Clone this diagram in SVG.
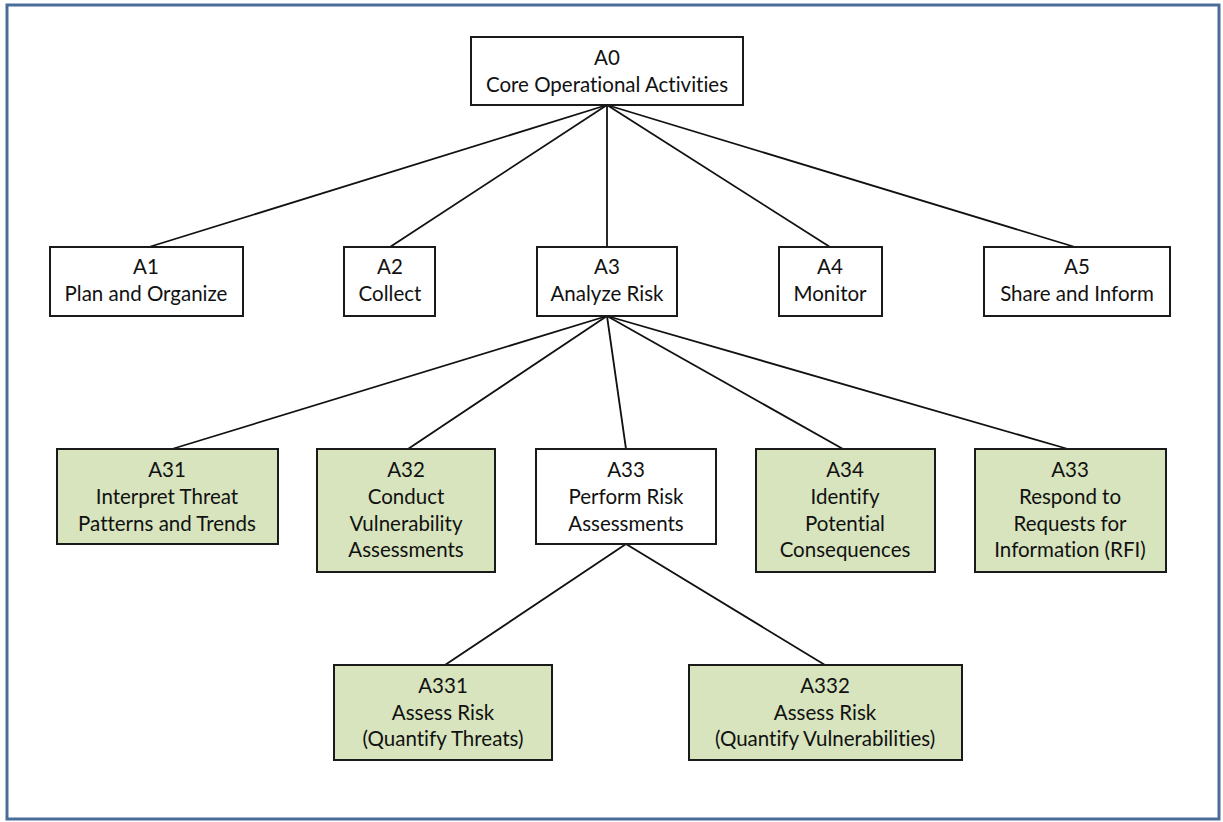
<svg xmlns="http://www.w3.org/2000/svg" width="1223" height="822" viewBox="0 0 1223 822">
<style>
.box{fill:#ffffff;stroke:#1a1a1a;stroke-width:2}
.g{fill:#d7e4bd}
.t{font-family:Lato,"Open Sans","Liberation Sans",sans-serif;font-size:20.5px;fill:#111;text-anchor:middle;font-variant-ligatures:none;font-feature-settings:"liga" 0}
.c line{stroke:#111;stroke-width:1.8}
</style>
<rect x="7" y="5" width="1212" height="814" fill="#ffffff" stroke="#4a6c9b" stroke-width="3"/>
<g class="c" id="connectors">
<line x1="607" y1="105" x2="149" y2="247"/>
<line x1="607" y1="105" x2="390" y2="247"/>
<line x1="607" y1="105" x2="607" y2="247"/>
<line x1="607" y1="105" x2="830" y2="247"/>
<line x1="607" y1="105" x2="1075" y2="247"/>
<line x1="607" y1="316" x2="172" y2="449"/>
<line x1="607" y1="316" x2="408" y2="449"/>
<line x1="607" y1="316" x2="626" y2="449"/>
<line x1="607" y1="316" x2="843" y2="449"/>
<line x1="607" y1="316" x2="1068" y2="449"/>
<line x1="626" y1="544" x2="445" y2="665"/>
<line x1="626" y1="544" x2="825" y2="665"/>
</g>
<g id="A0"><rect class="box" x="471" y="37" width="272" height="68"/>
<text class="t" x="607" y="65">A0</text><text class="t" x="607" y="92">Core Operational Activities</text></g>
<g id="A1"><rect class="box" x="50" y="247" width="193" height="69"/>
<text class="t" x="146" y="274">A1</text><text class="t" x="146" y="301">Plan and Organize</text></g>
<g id="A2"><rect class="box" x="344" y="247" width="91" height="69"/>
<text class="t" x="390" y="274">A2</text><text class="t" x="390" y="301">Collect</text></g>
<g id="A3"><rect class="box" x="537" y="247" width="140" height="69"/>
<text class="t" x="607" y="274">A3</text><text class="t" x="607" y="301">Analyze Risk</text></g>
<g id="A4"><rect class="box" x="779" y="247" width="103" height="69"/>
<text class="t" x="830" y="274">A4</text><text class="t" x="830" y="301">Monitor</text></g>
<g id="A5"><rect class="box" x="984" y="247" width="186" height="69"/>
<text class="t" x="1077" y="274">A5</text><text class="t" x="1077" y="301">Share and Inform</text></g>
<g id="A31"><rect class="box g" x="57" y="449" width="221" height="95"/>
<text class="t" x="167" y="477">A31</text><text class="t" x="167" y="504">Interpret Threat</text><text class="t" x="167" y="531">Patterns and Trends</text></g>
<g id="A32"><rect class="box g" x="317" y="449" width="178" height="123"/>
<text class="t" x="406" y="477">A32</text><text class="t" x="406" y="504">Conduct</text><text class="t" x="406" y="531">Vulnerability</text><text class="t" x="406" y="557">Assessments</text></g>
<g id="A33"><rect class="box" x="536" y="449" width="180" height="95"/>
<text class="t" x="626" y="477">A33</text><text class="t" x="626" y="504">Perform Risk</text><text class="t" x="626" y="531">Assessments</text></g>
<g id="A34"><rect class="box g" x="756" y="449" width="179" height="123"/>
<text class="t" x="845" y="477">A34</text><text class="t" x="845" y="504">Identify</text><text class="t" x="845" y="531">Potential</text><text class="t" x="845" y="557">Consequences</text></g>
<g id="A35"><rect class="box g" x="975" y="449" width="191" height="123"/>
<text class="t" x="1070" y="477">A33</text><text class="t" x="1070" y="504">Respond to</text><text class="t" x="1070" y="531">Requests for</text><text class="t" x="1070" y="557">Information (RFI)</text></g>
<g id="A331"><rect class="box g" x="334" y="665" width="218" height="95"/>
<text class="t" x="443" y="693">A331</text><text class="t" x="443" y="720">Assess Risk</text><text class="t" x="443" y="746">(Quantify Threats)</text></g>
<g id="A332"><rect class="box g" x="689" y="665" width="273" height="95"/>
<text class="t" x="825" y="693">A332</text><text class="t" x="825" y="720">Assess Risk</text><text class="t" x="825" y="746">(Quantify Vulnerabilities)</text></g>
</svg>
